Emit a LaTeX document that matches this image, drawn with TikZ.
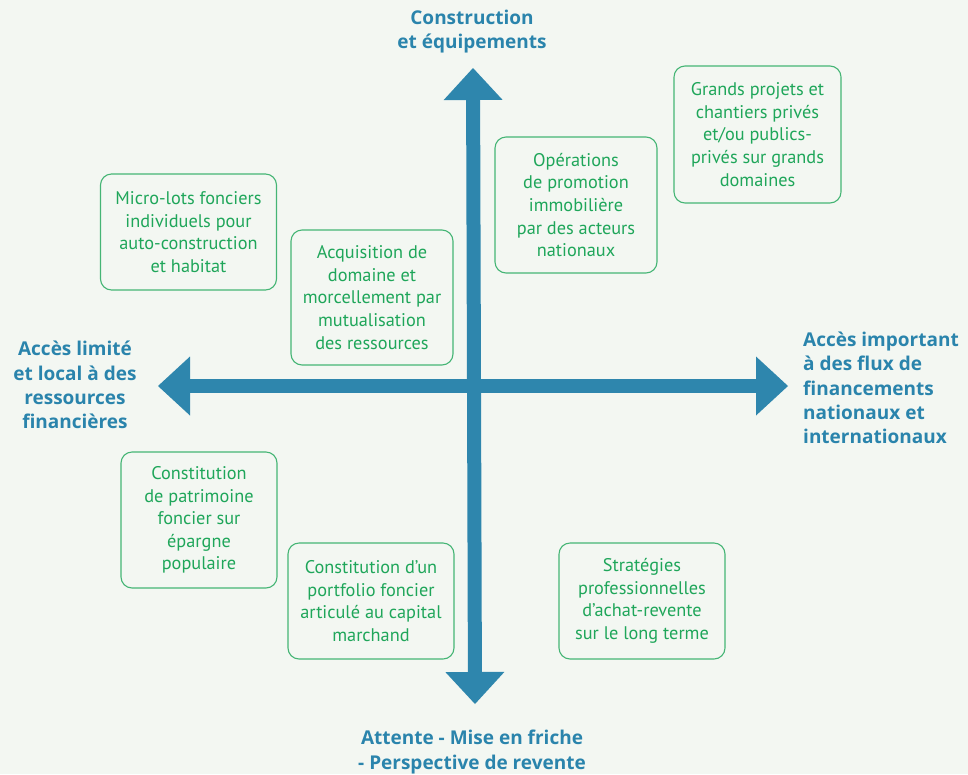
\documentclass[tikz,border=0pt]{standalone}
\usepackage{fontspec}
\setmainfont{PT Sans}
\newfontfamily\headfont{Open Sans}
\usetikzlibrary{arrows.meta}
\definecolor{bg}{HTML}{F3F7F2}
\definecolor{axis}{HTML}{2E86AD}
\definecolor{head}{HTML}{2A84AC}
\definecolor{gtext}{HTML}{1FA65A}
\definecolor{gline}{HTML}{45B575}
\tikzset{
  box/.style={draw=gline, line width=1.1pt, rounded corners=11pt, text=gtext,
    align=center, inner sep=0pt, font=\fontsize{18.3}{22.6}\selectfont},
  heading/.style={text=head, inner sep=0pt, font=\headfont\bfseries\fontsize{19}{24.3}\selectfont},
  axisline/.style={draw=axis, line width=14pt,
    arrows={Triangle[length=32pt,width=59pt,line width=0pt]-Triangle[length=32pt,width=59pt,line width=0pt]}, fill=axis}
}
\begin{document}
\begin{tikzpicture}[x=1pt,y=-1pt]
\fill[bg] (0,0) rectangle (968,774);
\useasboundingbox (0,0) rectangle (968,774);
\coordinate (top) at (473,68);
\coordinate (bot) at (475,704);
\coordinate (left) at (158,386);
\coordinate (right) at (788,386);
\draw[axisline] (left) -- (right);
\draw[axisline] (bot) -- (top);

\node[heading, align=center] (tl) at (472,31.5) {Construction\\et équipements};
\node[heading, align=center] (bl) at (472,752) {Attente - Mise en friche\\- Perspective de revente};
\node[heading, align=center] (ll) at (75,385) {Accès limité\\et local à des\\ressources\\financières};
\node[heading, align=left, anchor=west] (rl) at (803,388) {Accès important\\à des flux de\\financements\\nationaux et\\internationaux};

\node[box, minimum width=176pt, minimum height=116pt] (b1) at (188.5,232) {Micro-lots fonciers\\individuels pour\\auto-construction\\et habitat};
\node[box, minimum width=167pt, minimum height=137pt] (b2) at (757.5,134.5) {Grands projets et\\chantiers privés\\et/ou publics-\\privés sur grands\\domaines};
\node[box, minimum width=162pt, minimum height=136pt] (b3) at (576,205) {Opérations\\de promotion\\immobilière\\par des acteurs\\nationaux};
\node[box, minimum width=162pt, minimum height=135pt] (b4) at (372,297.5) {Acquisition de\\domaine et\\morcellement par\\mutualisation\\des ressources};
\node[box, minimum width=156pt, minimum height=136pt] (b5) at (199,520) {Constitution\\de patrimoine\\foncier sur\\épargne\\populaire};
\node[box, minimum width=166pt, minimum height=116pt] (b6) at (371,601) {Constitution d’un\\portfolio foncier\\articulé au capital\\marchand};
\node[box, minimum width=166pt, minimum height=116pt] (b7) at (642,601) {Stratégies\\professionnelles\\d’achat-revente\\sur le long terme};
\end{tikzpicture}
\end{document}
